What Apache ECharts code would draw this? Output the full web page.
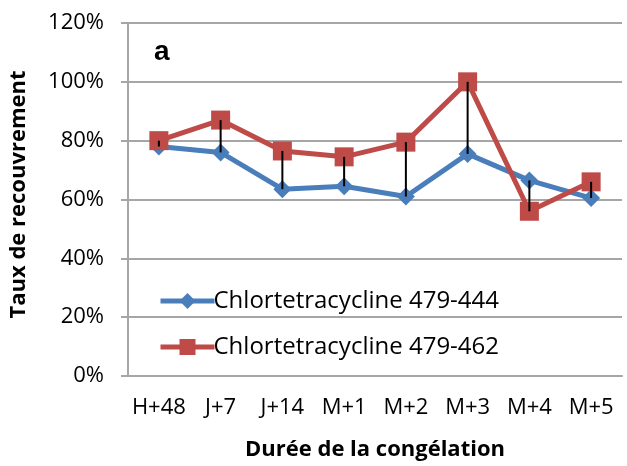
<!DOCTYPE html>
<html>
<head>
<meta charset="utf-8">
<script src="https://cdn.jsdelivr.net/npm/echarts@6/dist/echarts.min.js"></script>
<style>
html,body{margin:0;padding:0;background:#fff;}
#chart{width:627px;height:466px;}
</style>
</head>
<body>
<div id="chart"></div>
<script>
var categories = ['H+48', 'J+7', 'J+14', 'M+1', 'M+2', 'M+3', 'M+4', 'M+5'];
var series444 = [78, 76, 63.5, 64.5, 61, 75.5, 66.5, 60.5];
var series462 = [80, 87, 76.5, 74.5, 79.5, 100, 56, 66];
var yTicks = [0, 20, 40, 60, 80, 100, 120];
var name444 = 'Chlortetracycline 479-444';
var name462 = 'Chlortetracycline 479-462';

var FONT = '"Open Sans", "Liberation Sans", sans-serif';
var chart = echarts.init(document.getElementById('chart'));
var gray = '#a6a6a6';
var blue = '#4a7ebb';
var red = '#be4b48';

var hiLo = categories.map(function (c, i) { return [i, series444[i], series462[i]]; });

chart.setOption({
  animation: false,
  textStyle: { fontFamily: FONT },
  grid: { left: 126, right: 5, top: 23, bottom: 88 },
  legend: {
    orient: 'vertical',
    left: 153,
    top: 284,
    itemWidth: 54,
    itemHeight: 20,
    itemGap: 22,
    textStyle: { fontSize: 24, color: '#000', fontFamily: FONT, padding: [0, 0, 0, -6] },
    data: [
      { name: name444, lineStyle: { width: 5, color: blue } },
      { name: name462, lineStyle: { width: 5, color: red } }
    ]
  },
  graphic: [{
    type: 'text', left: 154, top: 38,
    style: { text: 'a', font: 'bold 28px "Liberation Sans", Arial, sans-serif', fill: '#000' }
  }],
  xAxis: {
    type: 'category',
    data: categories,
    boundaryGap: true,
    name: 'Durée de la congélation',
    nameLocation: 'middle',
    nameGap: 63,
    nameTextStyle: { fontSize: 22, fontWeight: 'bold', color: '#000', fontFamily: FONT },
    axisLine: { lineStyle: { color: gray, width: 2 } },
    axisTick: { show: false },
    axisLabel: { fontSize: 22, color: '#000', margin: 21, interval: 0 }
  },
  yAxis: {
    type: 'value',
    min: 0, max: 120, interval: 20,
    name: 'Taux de recouvrement',
    nameLocation: 'middle',
    nameGap: 98,
    nameTextStyle: { fontSize: 22, fontWeight: 'bold', color: '#000', fontFamily: FONT, padding: [0, 0, 0, 10] },
    axisLine: { show: true, lineStyle: { color: gray, width: 2 } },
    axisTick: { show: true, length: 7, lineStyle: { color: gray, width: 2 } },
    axisLabel: { fontSize: 22, color: '#000', margin: 24, formatter: function (v) { return yTicks.indexOf(v) >= 0 ? v + '%' : ''; } },
    splitLine: { lineStyle: { color: gray, width: 2 } }
  },
  series: [
    {
      name: name444, type: 'line', data: series444,
      symbol: 'diamond', symbolSize: 18,
      lineStyle: { color: blue, width: 5 },
      itemStyle: { color: blue },
      z: 2
    },
    {
      name: name462, type: 'line', data: series462,
      symbol: 'rect', symbolSize: 19,
      lineStyle: { color: red, width: 5 },
      itemStyle: { color: red },
      z: 3
    },
    {
      type: 'custom', data: hiLo, z: 10, silent: true,
      renderItem: function (params, api) {
        var p1 = api.coord([api.value(0), api.value(1)]);
        var p2 = api.coord([api.value(0), api.value(2)]);
        return { type: 'line', shape: { x1: p1[0], y1: p1[1], x2: p2[0], y2: p2[1] }, style: { stroke: '#000', lineWidth: 2 } };
      }
    }
  ]
});
</script>
</body>
</html>
